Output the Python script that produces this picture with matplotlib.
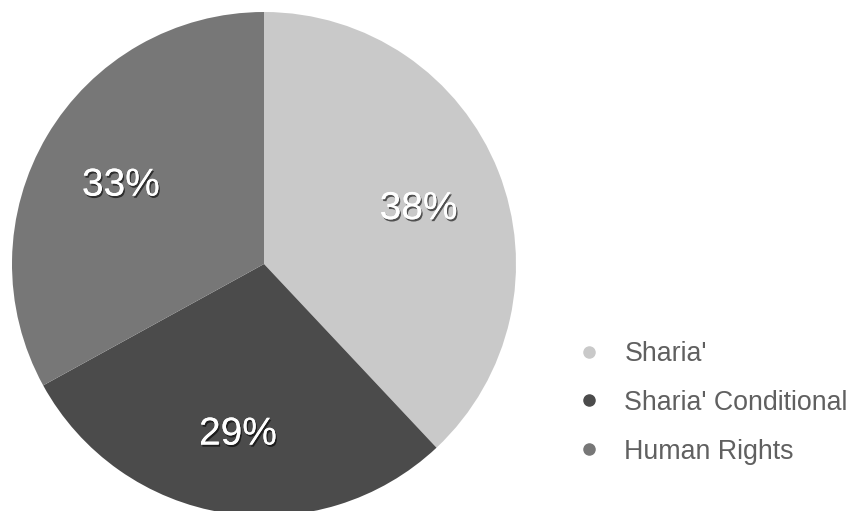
import matplotlib
matplotlib.use('Agg')
import matplotlib.pyplot as plt
import matplotlib.patheffects as pe
from matplotlib.lines import Line2D

labels = ["Sharia'", "Sharia' Conditional", "Human Rights"]
shares = [38, 29, 33]
colors = ['#c9c9c9', '#4b4b4b', '#777777']

plt.rcParams['font.family'] = ['Liberation Sans', 'DejaVu Sans']

fig = plt.figure(figsize=(8.54, 5.11), dpi=100)
# pie axes: centre at (264, 264) px from top-left, radius ~252 px
ax = fig.add_axes([12 / 854, (511 - 264 - 252) / 511, 504 / 854, 504 / 511])

wedges, texts, autotexts = ax.pie(
    shares, colors=colors, startangle=90, counterclock=False,
    autopct='%d%%', pctdistance=0.66, radius=1,
    textprops=dict(color='white', fontsize=28),
)
for t in autotexts:
    x, y = t.get_position()
    t.set_position((x, y - 0.025))  # nudge labels down slightly
    t.set_path_effects([pe.withSimplePatchShadow(offset=(1, -1.5), shadow_rgbFace='black', alpha=0.6),
                        pe.Normal()])
ax.set_xlim(-1, 1)
ax.set_ylim(-1, 1)
ax.set_aspect('equal')

handles = [Line2D([], [], marker='o', linestyle='', markersize=8, color=c) for c in colors]
fig.legend(handles, labels, loc='upper left', bbox_to_anchor=(576 / 854, 1 - 341 / 511),
           frameon=False, fontsize=19.3, labelcolor='#606060', handlelength=1.0,
           handletextpad=0.8, labelspacing=0.85, borderpad=0, borderaxespad=0)

fig.savefig('out.png', dpi=100)
